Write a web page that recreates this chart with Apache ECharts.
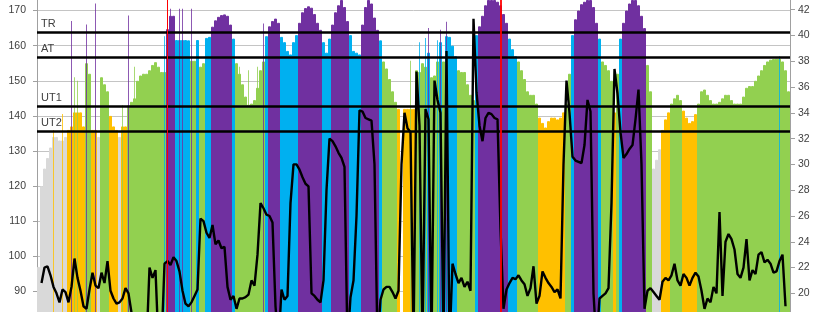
<!DOCTYPE html>
<html><head><meta charset="utf-8">
<script src="https://cdn.jsdelivr.net/npm/echarts@6/dist/echarts.min.js"></script>
<style>html,body{margin:0;padding:0;background:#fff}#c{width:820px;height:312px}</style>
</head><body><div id="c"></div>
<script>
// Heart rate per sample (left axis, bpm)
const heartRate = [
97,120,125,128,131,134,134,133,133,134,
136,137,141,141,141,137,155,152,136,136,
134,151,149,147,140,137,136,134,137,137,
143,144,145,150,151.5,152,152,153,154.5,155.3,
154,152.5,152.5,164.7,168.5,168.5,161.6,161.6,161.6,161.6,
161.5,155.7,155.7,161.6,154,155,162.2,162.5,165.4,167.2,
168.2,168.7,168.9,168.5,166,162,155,152,149,145.5,
143.2,143.5,144.5,148,153,155.5,162.7,165.5,167,167.7,
166.5,162.5,161,158.5,157.5,161,163,166.5,169.5,170.7,
171.2,170.8,169,166.5,164.5,161,158,162,166,169.5,
171.5,173,171,167,163,158.5,158,157.5,166,171,
173,172,168,164.5,161.5,155.5,153.5,150.5,147,144,
142,80,142,142,142,142,153,152.5,155,154,
158,151,151.5,155.5,161,155.5,162.7,162.5,160,157,
153,152.5,152.5,149,146,144.5,163,165.5,168.5,171.5,
173,173,173,172.5,171.5,169,166.5,162,159,157,
155.5,153,150.5,147,146,146,143.5,139.5,138,136.7,
138.5,139.5,139.5,139,139.5,141,143.5,152,163,167.5,
170,171.8,172.5,173,173,171,166.5,162,155.5,154.5,
153,150,141,152,162,166.5,170,172,173,173,
171.5,168.5,165,154.5,147,125,127.5,130.5,136,139,
141,143.5,145,146,144.5,141.5,139.5,138,138.5,140.5,
143.5,147,147.5,146,144.5,143.5,143.5,144,145,146,
146,144.5,143.5,143.5,143.5,145.5,148,148.5,148.5,150,
151.5,153,154.5,155.5,156,156.2,156.3,156.3,155.5,153,
147
];
// Black trace per sample (right axis)
const speed = [
null,20.8,22,22.1,21.4,20.5,20,19.3,20.3,20.1,
19.3,20.5,22.7,21.2,20.2,19,18.8,20.3,21.6,20.6,
20.4,21.6,20.8,22.5,20.2,19.6,19.2,19.3,19.6,20.4,
20,18.5,16,16,16,16,16,22,21.2,21.8,
16,16,22.3,22.5,22.2,22.8,22.5,21.7,20.2,19.2,
19,19.3,19.8,20.3,25.8,25.6,24.7,24.3,25.3,23.8,
24.1,23.5,23.6,20.5,19.5,19.8,18.8,19.6,19.6,19.7,
19.9,21,20.6,23,27,26.6,26.1,26,25.5,19,
16,20.3,19.5,19.8,27,30,30,29.6,29,28.5,
28.3,20,19.8,19.5,19.3,21,28,32,31.8,31.4,
30.9,30.5,29.8,16,19.7,21,26,34.2,34.1,33.6,
33.5,33.4,30,16,19.5,20.3,20.5,20.5,20.1,19.6,
20.2,30,34,32.8,32.5,16,37.2,33,16,34.3,
33.5,16,36.5,35,34,16,38.8,16,22.3,21.5,
20.8,21.2,20.5,20.9,20.2,41.3,35.6,33,31.8,33.6,
34,33.9,33.6,33.5,25,18.8,20.3,20.8,21.2,21.1,
21.4,21,20.7,19.8,20.4,22.1,19.2,19.8,21.7,21.2,
20.8,20.5,20.1,20.3,19.6,30,36.5,34,30.6,30.3,
30.2,30.1,31.5,35,34.1,20,16,19.6,19.8,20,
20.4,27,37.4,35.5,32.5,30.5,30.8,31.2,31.5,33.5,
35.8,30,18.8,20.2,20.4,20.1,19.8,19.5,20.9,21.2,
21,21.4,22.3,21,20.6,21.5,21.2,20.6,21.2,21.6,
21.3,20.2,18.8,19.6,19.3,20.5,20,26.3,19.8,24,
24.6,24.2,23.4,21.5,21.2,22,24.2,21,21.8,21.5,
23,23.2,22.4,22.6,22.3,21.6,21.7,22.5,23,19,
null
];
// Single-sample heart-rate spikes (sample index, bpm)
const spikeSamples = [5,8,11,12,13,16,19,28,30,32,42,44,47,48,51,67,70,73,75,124,127,129,130,133,134,136,247];
const spikeHeartRate = [136,140.5,167,151,150,166,172,143,168.6,154,162.7,170.5,170.5,170.5,170.5,154,153,154,166.3,155.7,161,162.2,165,161.5,164.5,166.8,157];
// Zone thresholds
const zoneNames = ['TR','AT','UT1','UT2'];
const zoneLevels = [163.7,156.6,142.6,135.6];
// Red event markers (sample index)
const markerSamples = [43,154];
const markerWidths = [1,1.8];
// Right axis tick labels
const rightTicks = [20,22,24,26,28,30,32,34,36,38,40,42];

const zoneColors = ['#7030A0','#00B0F0','#92D050','#FFC000','#D9D9D9'];
function zoneColor(v){
  for (let k = 0; k < zoneLevels.length; k++) if (v >= zoneLevels[k]) return zoneColors[k];
  return zoneColors[4];
}
const samples = heartRate.map((_, i) => String(i));
const barData = heartRate.map(v => {
  const c = zoneColor(v);
  return {value: v, itemStyle: {color: c, borderColor: c, borderWidth: 1}};
});
const spikeData = heartRate.map(() => null);
spikeSamples.forEach((s, k) => {
  const v = spikeHeartRate[k];
  spikeData[s] = {value: v, itemStyle: {color: zoneColor(v), opacity: 0.8}};
});

const font = 'Liberation Sans';
const chart = echarts.init(document.getElementById('c'), null, {renderer: 'canvas'});
chart.setOption({
  animation: false,
  backgroundColor: '#fff',
  grid: {left: 37, right: 30, top: -24.6, bottom: -14.6, containLabel: false, outerBoundsMode: 'none'},
  xAxis: [
    {type: 'category', data: samples, boundaryGap: true, axisLine: {show: false}, axisTick: {show: false}, axisLabel: {show: false}, splitLine: {show: false}},
    {type: 'category', data: samples, boundaryGap: true, position: 'top', show: false}
  ],
  yAxis: [
    {type: 'value', min: 80, max: 180, interval: 10, position: 'left',
     axisLine: {show: true, lineStyle: {color: '#A0A0A0', width: 1}},
     axisTick: {show: true, length: 4, lineStyle: {color: '#A0A0A0'}},
     axisLabel: {color: '#404040', fontFamily: font, fontSize: 10.5, margin: 11},
     splitLine: {show: true, lineStyle: {color: '#C4C4C4', width: 1}}},
    {type: 'value', min: 17.42, max: 44.66, position: 'right',
     axisLine: {show: true, lineStyle: {color: '#A0A0A0', width: 1}},
     axisTick: {show: true, length: 5, customValues: rightTicks, lineStyle: {color: '#A0A0A0'}},
     axisLabel: {color: '#404040', fontFamily: font, fontSize: 10.5, margin: 8, customValues: rightTicks},
     splitLine: {show: false}}
  ],
  series: [
    {type: 'bar', name: 'HR', xAxisIndex: 0, yAxisIndex: 0, data: barData,
     barCategoryGap: '0%', barGap: '0%', z: 2,
     markLine: {silent: true, symbol: 'none', animation: false,
       lineStyle: {color: '#000', width: 2.5, type: 'solid'},
       label: {show: true, position: 'insideStartTop', formatter: p => p.name, color: '#404040', fontFamily: font, fontSize: 11, distance: [4, 3]},
       data: zoneNames.map((n, k) => ({name: n, yAxis: zoneLevels[k]}))}},
    {type: 'bar', name: 'spikes', xAxisIndex: 1, yAxisIndex: 0, data: spikeData, barWidth: 1, z: 2,
     markLine: {silent: true, symbol: 'none', animation: false, label: {show: false},
       data: markerSamples.map((s, k) => ({xAxis: String(s), lineStyle: {color: '#FF0000', width: markerWidths[k], type: 'solid'}}))}},
    {type: 'line', name: 'speed', xAxisIndex: 0, yAxisIndex: 1, data: speed, symbol: 'none', showSymbol: false,
     connectNulls: false, lineStyle: {color: '#000', width: 2.4}, z: 3}
  ]
});
</script></body></html>
